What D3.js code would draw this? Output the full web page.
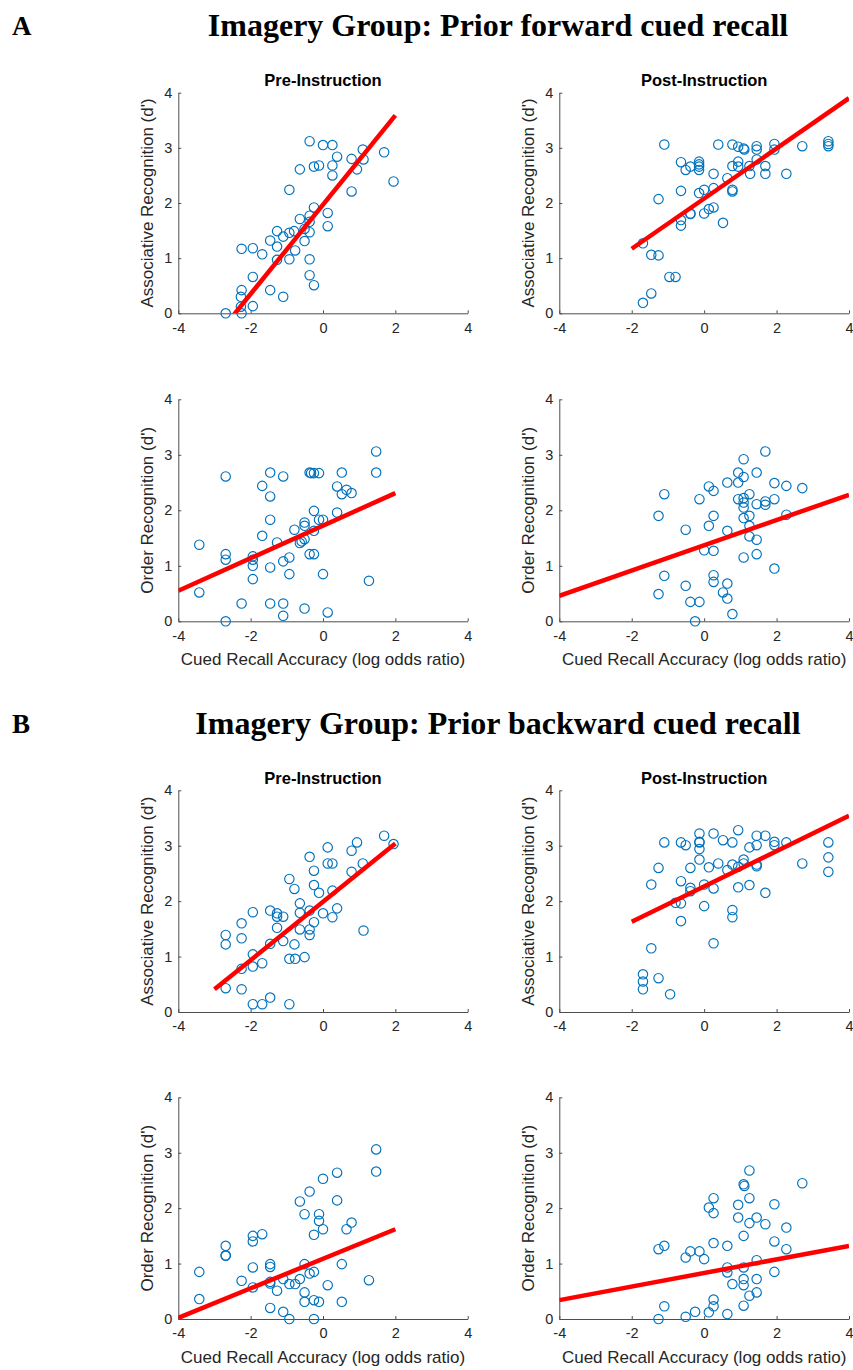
<!DOCTYPE html>
<html>
<head>
<meta charset="utf-8">
<script src="https://cdn.jsdelivr.net/npm/d3@7"></script>
<style>
  html, body { margin: 0; padding: 0; background: #fff; }
  svg { display: block; }
</style>
</head>
<body>
<svg id="chart" width="853" height="1370"></svg>
<script>
// ---------- Data ----------
const xTicks = [-4, -2, 0, 2, 4];
const yTicks = [0, 1, 2, 3, 4];
const sectionLetters = ["A", "B"];
const sectionTitles = ["Imagery Group: Prior forward cued recall", "Imagery Group: Prior backward cued recall"];
const columnTitles = ["Pre-Instruction", "Post-Instruction"];
const rowLabels = ["Associative Recognition (d')", "Order Recognition (d')"];
const xLabel = "Cued Recall Accuracy (log odds ratio)";

// A: forward, pre-instruction, associative
const fwdPreAssocX = [-2.69,-2.25,-2.27,-2.27,-2.25,-1.94,-1.94,-2.25,-1.94,-1.68,-1.46,-1.10,-1.46,-1.27,-1.27,-1.27,-1.10,-0.93,-0.93,-0.93,-0.80,-0.77,-0.64,-0.64,-0.51,-0.51,-0.37,-0.37,-0.37,-0.37,-0.37,-0.25,-0.25,-0.37,-0.25,-0.11,0.00,0.26,0.13,0.13,0.26,0.26,0.39,0.79,0.79,0.94,1.10,1.12,1.69,1.95];
const fwdPreAssocY = [0.00,0.00,0.12,0.30,0.42,0.13,0.66,1.17,1.18,1.07,0.42,0.30,1.32,1.21,1.49,0.97,1.39,1.46,0.98,2.24,1.49,1.14,1.71,2.61,1.31,1.53,1.77,1.66,1.47,0.98,0.69,0.51,1.92,3.12,2.66,2.68,3.05,3.05,1.82,1.58,2.68,2.50,2.84,2.80,2.21,2.61,2.97,2.79,2.92,2.39];
// A: forward, post-instruction, associative
const fwdPostAssocX = [-1.69,-1.46,-1.69,-1.46,-1.26,-0.96,-0.79,-1.26,-1.10,-0.64,-0.64,-0.64,-0.64,-0.51,-0.38,-0.38,-0.38,-0.14,-0.14,-0.14,-0.14,-0.14,0.00,0.00,0.13,0.26,0.26,0.26,0.39,0.52,0.64,0.78,0.78,0.78,0.78,0.94,0.94,0.94,1.09,1.11,1.25,1.27,1.45,1.45,1.45,1.69,1.69,1.94,1.94,2.27,2.71,3.43,3.43,3.43];
const fwdPostAssocY = [0.19,0.36,1.27,1.06,1.05,0.66,0.66,2.07,3.06,2.74,2.22,1.69,1.59,2.60,2.66,1.81,1.80,2.75,2.70,2.66,2.60,2.18,2.24,1.81,1.89,1.92,2.27,2.53,3.06,1.64,2.45,3.06,2.67,2.24,2.21,3.02,2.75,2.66,2.99,2.97,2.67,2.53,3.03,2.97,2.79,2.67,2.53,3.07,2.97,2.53,3.03,3.12,3.07,3.03];
// A: forward, pre-instruction, order
const fwdPreOrderX = [-3.42,-3.42,-2.69,-2.69,-2.69,-2.69,-2.25,-1.94,-1.94,-1.94,-1.94,-1.68,-1.68,-1.46,-1.46,-1.46,-1.46,-1.46,-1.27,-1.10,-1.10,-1.10,-1.10,-0.93,-0.93,-0.79,-0.64,-0.59,-0.51,-0.51,-0.51,-0.51,-0.37,-0.33,-0.37,-0.25,-0.25,-0.25,-0.25,-0.11,-0.11,0.00,0.00,0.13,0.39,0.39,0.52,0.52,0.65,0.79,1.27,1.47,1.47];
const fwdPreOrderY = [0.52,1.38,2.61,1.21,1.11,0.00,0.32,1.17,1.11,1.00,0.76,2.44,1.54,2.68,2.25,1.83,0.97,0.32,1.42,2.61,1.08,0.32,0.10,1.15,0.85,1.65,1.41,1.44,1.48,1.78,1.72,0.23,2.68,2.67,1.21,1.21,2.67,1.99,1.63,2.67,1.83,1.83,0.85,0.16,2.43,1.96,2.68,2.29,2.37,2.31,0.73,3.06,2.68];
// A: forward, post-instruction, order
const fwdPostOrderX = [-1.26,-1.26,-1.10,-1.10,-0.51,-0.51,-0.38,-0.25,-0.13,-0.13,0.00,0.13,0.13,0.26,0.26,0.26,0.26,0.26,0.52,0.64,0.64,0.64,0.64,0.78,0.94,0.94,0.94,1.09,1.09,1.09,1.09,1.09,1.09,1.09,1.25,1.25,1.25,1.25,1.45,1.45,1.45,1.45,1.69,1.69,1.69,1.94,1.94,1.94,2.27,2.27,2.71];
const fwdPostOrderY = [0.49,1.90,2.29,0.82,1.65,0.64,0.35,0.00,2.20,0.35,1.28,2.43,1.72,2.35,1.90,1.27,0.83,0.71,0.52,2.50,1.63,0.68,0.41,0.13,2.68,2.50,2.20,2.92,2.60,2.22,2.14,2.05,1.86,1.15,2.29,1.90,1.72,1.53,2.68,2.11,1.47,1.21,3.06,2.16,2.10,2.49,2.20,0.95,2.44,1.92,2.40];
// B: backward, pre-instruction, associative
const bwdPreAssocX = [-2.69,-2.69,-2.69,-2.25,-2.25,-2.25,-2.25,-1.94,-1.94,-1.94,-1.94,-1.68,-1.68,-1.46,-1.46,-1.46,-1.27,-1.27,-1.27,-1.10,-1.10,-0.93,-0.93,-0.93,-0.79,-0.79,-0.77,-0.64,-0.64,-0.64,-0.51,-0.37,-0.37,-0.37,-0.37,-0.25,-0.25,-0.25,-0.11,0.00,0.13,0.13,0.26,0.26,0.26,0.39,0.79,0.79,0.94,1.10,1.12,1.69,1.95];
const bwdPreAssocY = [1.39,1.22,0.43,1.60,1.33,0.78,0.41,1.80,1.04,0.82,0.14,0.88,0.14,1.83,1.23,0.26,1.78,1.72,1.52,1.72,1.28,2.40,0.96,0.14,2.22,1.22,0.96,1.96,1.79,1.49,0.99,2.80,1.83,1.49,1.39,2.55,2.29,1.62,2.15,1.78,2.97,2.68,2.68,2.19,1.71,1.87,2.91,2.53,3.06,2.68,1.47,3.18,3.03];
// B: backward, post-instruction, associative
const bwdPostAssocX = [-1.69,-1.69,-1.69,-1.46,-1.46,-1.26,-1.26,-1.10,-0.94,-0.79,-0.64,-0.64,-0.64,-0.64,-0.51,-0.38,-0.38,-0.38,-0.13,-0.13,-0.13,-0.13,-0.13,0.00,0.00,0.13,0.26,0.26,0.26,0.39,0.52,0.64,0.78,0.78,0.78,0.78,0.94,0.94,0.94,1.09,1.09,1.25,1.25,1.45,1.45,1.45,1.45,1.69,1.69,1.94,1.94,2.27,2.71,3.43,3.43,3.43];
const bwdPostAssocY = [0.68,0.55,0.41,1.15,2.30,0.61,2.60,3.06,0.32,1.97,3.06,2.36,1.96,1.64,3.01,2.60,2.24,2.18,3.22,3.07,3.06,2.94,2.75,2.30,1.91,2.61,3.22,2.23,1.24,2.68,3.10,2.56,3.06,2.66,1.84,1.71,3.28,2.62,2.25,2.75,2.68,2.97,2.29,3.18,3.01,2.66,2.63,3.18,2.15,3.07,3.01,3.06,2.68,3.06,2.79,2.53];
// B: backward, pre-instruction, order
const bwdPreOrderX = [-3.42,-3.42,-2.69,-2.69,-2.69,-2.25,-1.94,-1.94,-1.94,-1.94,-1.68,-1.46,-1.46,-1.46,-1.46,-1.46,-1.27,-1.10,-1.10,-0.93,-0.93,-0.77,-0.64,-0.64,-0.51,-0.51,-0.51,-0.51,-0.37,-0.37,-0.25,-0.25,-0.25,-0.25,-0.11,-0.11,-0.11,0.00,0.00,0.13,0.39,0.39,0.52,0.52,0.65,0.79,1.27,1.47,1.47];
const bwdPreOrderY = [0.85,0.36,1.32,1.14,1.15,0.69,1.50,1.40,0.93,0.57,1.53,0.99,0.94,0.67,0.64,0.20,0.51,0.72,0.13,0.63,0.00,0.63,2.12,0.72,1.89,0.99,0.48,0.31,2.30,0.82,0.85,1.52,0.34,0.00,1.89,1.77,0.31,2.53,1.62,0.61,2.64,2.14,0.99,0.31,1.62,1.74,0.70,3.06,2.66];
// B: backward, post-instruction, order
const bwdPostOrderX = [-1.26,-1.26,-1.10,-1.10,-0.51,-0.51,-0.38,-0.25,-0.13,0.00,0.13,0.13,0.26,0.26,0.26,0.26,0.26,0.64,0.64,0.64,0.64,0.78,0.94,0.94,1.09,1.11,1.09,1.09,1.09,1.09,1.09,1.25,1.25,1.25,1.25,1.45,1.45,1.45,1.45,1.69,1.94,1.94,1.94,2.27,2.27,2.71];
const bwdPostOrderY = [0.00,1.26,1.32,0.23,1.11,0.04,1.22,0.13,1.22,1.08,2.01,0.12,2.18,1.91,1.37,0.35,0.23,1.32,0.93,0.84,0.09,0.63,2.06,1.83,2.43,2.40,1.50,0.93,0.72,0.61,0.24,2.68,2.18,1.73,0.42,1.83,1.06,0.72,0.48,1.71,2.07,1.40,0.85,1.65,1.26,2.45];

// Least-squares fit lines: [x0, x1] and [y0, y1]
const fitFwdPreAssocX = [-3, 2],  fitFwdPreAssocY = [-0.46, 3.59];
const fitFwdPostAssocX = [-2, 4], fitFwdPostAssocY = [1.17, 3.90];
const fitFwdPreOrderX = [-4, 2],  fitFwdPreOrderY = [0.55, 2.31];
const fitFwdPostOrderX = [-4, 4], fitFwdPostOrderY = [0.46, 2.28];
const fitBwdPreAssocX = [-3, 2],  fitBwdPreAssocY = [0.41, 3.04];
const fitBwdPostAssocX = [-2, 4], fitBwdPostAssocY = [1.63, 3.54];
const fitBwdPreOrderX = [-4, 2],  fitBwdPreOrderY = [0.02, 1.62];
const fitBwdPostOrderX = [-4, 4], fitBwdPostOrderY = [0.34, 1.32];

// ---------- Layout ----------
const colX = [[178.3, 467.7], [559.3, 849.0]];
const rowY = [[92.7, 313.3], [399.3, 621.3], [790.3, 1012.0], [1097.3, 1319.0]];
const sectionTitleY = [35, 733];
const textColor = "#262626";
const axisColor = "#4d4d4d";
const sansFont = "'Liberation Sans', Arial, Helvetica, sans-serif";
const serifFont = "'Liberation Serif', 'Times New Roman', serif";

const panels = [
  {row: 0, col: 0, xs: fwdPreAssocX,  ys: fwdPreAssocY,  fx: fitFwdPreAssocX,  fy: fitFwdPreAssocY,  title: columnTitles[0], yl: rowLabels[0], xl: false},
  {row: 0, col: 1, xs: fwdPostAssocX, ys: fwdPostAssocY, fx: fitFwdPostAssocX, fy: fitFwdPostAssocY, title: columnTitles[1], yl: rowLabels[0], xl: false},
  {row: 1, col: 0, xs: fwdPreOrderX,  ys: fwdPreOrderY,  fx: fitFwdPreOrderX,  fy: fitFwdPreOrderY,  title: null, yl: rowLabels[1], xl: true},
  {row: 1, col: 1, xs: fwdPostOrderX, ys: fwdPostOrderY, fx: fitFwdPostOrderX, fy: fitFwdPostOrderY, title: null, yl: rowLabels[1], xl: true},
  {row: 2, col: 0, xs: bwdPreAssocX,  ys: bwdPreAssocY,  fx: fitBwdPreAssocX,  fy: fitBwdPreAssocY,  title: columnTitles[0], yl: rowLabels[0], xl: false},
  {row: 2, col: 1, xs: bwdPostAssocX, ys: bwdPostAssocY, fx: fitBwdPostAssocX, fy: fitBwdPostAssocY, title: columnTitles[1], yl: rowLabels[0], xl: false},
  {row: 3, col: 0, xs: bwdPreOrderX,  ys: bwdPreOrderY,  fx: fitBwdPreOrderX,  fy: fitBwdPreOrderY,  title: null, yl: rowLabels[1], xl: true},
  {row: 3, col: 1, xs: bwdPostOrderX, ys: bwdPostOrderY, fx: fitBwdPostOrderX, fy: fitBwdPostOrderY, title: null, yl: rowLabels[1], xl: true}
];

const svg = d3.select("#chart");
svg.append("rect").attr("width", 853).attr("height", 1370).attr("fill", "#fff");

// Section headers
sectionLetters.forEach((L, i) => {
  svg.append("text").attr("x", 12).attr("y", sectionTitleY[i])
    .attr("font-family", serifFont).attr("font-weight", "bold").attr("font-size", 27)
    .attr("fill", "#000").text(L);
  svg.append("text").attr("x", 498).attr("y", sectionTitleY[i] + 1)
    .attr("text-anchor", "middle")
    .attr("font-family", serifFont).attr("font-weight", "bold").attr("font-size", 32)
    .attr("fill", "#000").text(sectionTitles[i]);
});

panels.forEach((p, idx) => {
  const [x0, x1] = colX[p.col];
  const [yTop, yBot] = rowY[p.row];
  const x = d3.scaleLinear().domain([-4, 4]).range([x0, x1]);
  const y = d3.scaleLinear().domain([0, 4]).range([yBot, yTop]);
  const g = svg.append("g");

  const clipId = "clip" + idx;
  svg.append("clipPath").attr("id", clipId).append("rect")
    .attr("x", x0).attr("y", yTop).attr("width", x1 - x0).attr("height", yBot - yTop);

  // axes
  const xAxis = d3.axisBottom(x).tickValues(xTicks).tickSizeInner(-3).tickSizeOuter(0).tickPadding(9).tickFormat(d3.format("d"));
  const yAxis = d3.axisLeft(y).tickValues(yTicks).tickSizeInner(-3).tickSizeOuter(0).tickPadding(6).tickFormat(d3.format("d"));
  const gx = g.append("g").attr("transform", `translate(0,${yBot})`).call(xAxis);
  const gy = g.append("g").attr("transform", `translate(${x0},0)`).call(yAxis);
  [gx, gy].forEach(a => {
    a.selectAll("path.domain").attr("stroke", axisColor).attr("stroke-width", 1);
    a.selectAll(".tick line").attr("stroke", axisColor).attr("stroke-width", 1);
    a.selectAll(".tick text").attr("fill", textColor).attr("font-family", sansFont).attr("font-size", 14.5)
      .text(d => d < 0 ? "-" + Math.abs(d) : String(d));
  });

  // points
  const pts = p.xs.map((v, i) => [v, p.ys[i]]);
  g.append("g").selectAll("circle").data(pts).join("circle")
    .attr("cx", d => x(d[0])).attr("cy", d => y(d[1])).attr("r", 4.7)
    .attr("fill", "none").attr("stroke", "#0072BD").attr("stroke-width", 1.15);

  // fit line
  g.append("line").attr("clip-path", `url(#${clipId})`)
    .attr("x1", x(p.fx[0])).attr("y1", y(p.fy[0]))
    .attr("x2", x(p.fx[1])).attr("y2", y(p.fy[1]))
    .attr("stroke", "#FF0000").attr("stroke-width", 4.5);

  // titles / labels
  if (p.title) {
    g.append("text").attr("x", (x0 + x1) / 2).attr("y", yTop - 6.5).attr("text-anchor", "middle")
      .attr("font-family", sansFont).attr("font-weight", "bold").attr("font-size", 16.5)
      .attr("fill", "#000").text(p.title);
  }
  g.append("text").attr("transform", `translate(${x0 - 25},${(yTop + yBot) / 2}) rotate(-90)`)
    .attr("text-anchor", "middle").attr("font-family", sansFont).attr("font-size", 17)
    .attr("fill", textColor).text(p.yl);
  if (p.xl) {
    g.append("text").attr("x", (x0 + x1) / 2).attr("y", yBot + 44).attr("text-anchor", "middle")
      .attr("font-family", sansFont).attr("font-size", 17)
      .attr("fill", textColor).text(xLabel);
  }
});
</script>
</body>
</html>
